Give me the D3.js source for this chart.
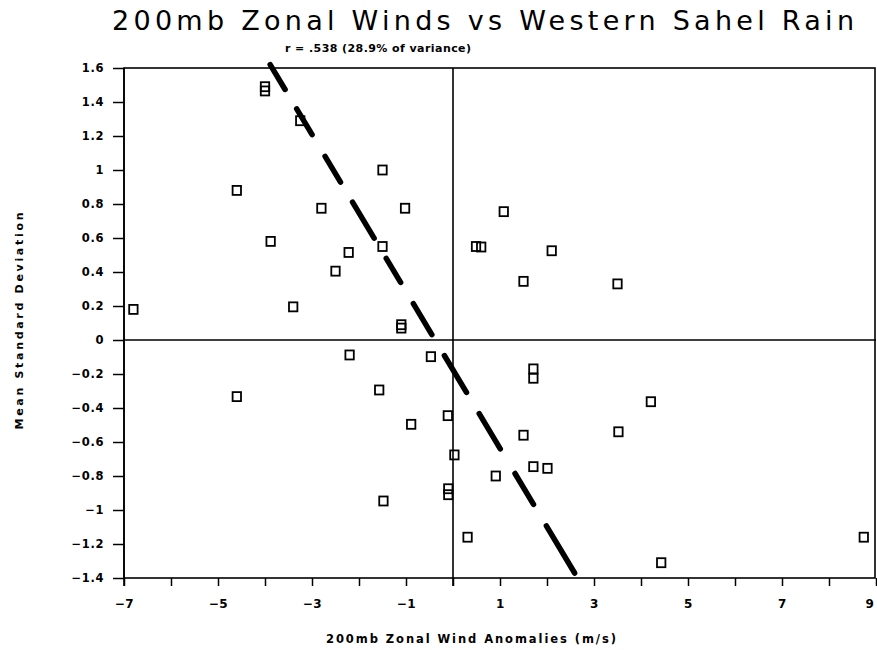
<!DOCTYPE html>
<html><head><meta charset="utf-8">
<script src="https://cdn.jsdelivr.net/npm/d3@7"></script>
<style>
body{margin:0;background:#fff;}
svg{display:block;}
</style></head>
<body><svg id="c" width="877" height="650"></svg>
<script>
// ---- data ----
const windAnomaly = [-4.0,-4.0,-3.25,-1.5,-4.6,-2.8,-1.02,-3.88,-1.5,-2.22,-2.5,-6.8,-3.4,-1.1,-1.1,
  1.08,0.49,0.6,2.1,1.5,3.5,-2.2,-0.47,-1.57,-4.6,-0.11,-0.89,0.03,0.91,-0.1,-0.1,-1.48,0.31,
  1.71,1.71,4.21,1.5,3.52,1.71,2.01,8.74,4.43];
const rainSD = [1.49,1.465,1.29,1.0,0.88,0.775,0.775,0.58,0.55,0.515,0.405,0.18,0.195,0.09,0.07,
  0.755,0.55,0.547,0.525,0.345,0.33,-0.088,-0.098,-0.294,-0.333,-0.445,-0.496,-0.676,-0.8,-0.875,-0.91,-0.947,-1.16,
  -0.17,-0.225,-0.363,-0.56,-0.54,-0.745,-0.755,-1.16,-1.31];
const regSlope = -0.4617, regIntercept = -0.176;
const regYEnds = [1.62, -1.39];
const xTicks = d3.range(-7, 10, 1);
const xLabels = [-7,-5,-3,-1,1,3,5,7,9];
const yTicks = [-1.4,-1.2,-1,-0.8,-0.6,-0.4,-0.2,0,0.2,0.4,0.6,0.8,1,1.2,1.4,1.6];
const titleText = "200mb Zonal Winds vs Western Sahel Rain";
const subtitleText = "r = .538  (28.9% of variance)";
const xTitle = "200mb Zonal Wind Anomalies (m/s)";
const yTitle = "Mean Standard Deviation";

// ---- drawing ----
const svg = d3.select("#c");
const L = 124, R = 876, T = 68, B = 578;
const x = d3.scaleLinear().domain([-7, 9]).range([L, R]);
const y = d3.scaleLinear().domain([-1.4, 1.6]).range([B, T]);
const fmt = d3.format("");
const lab = "'DejaVu Sans', Verdana, sans-serif";

// frame
svg.append("rect").attr("x", L).attr("y", T).attr("width", x(9) - 1 - L).attr("height", B - T)
  .attr("fill", "none").attr("stroke", "#000").attr("stroke-width", 1.6);

// y axis ticks
const ya = svg.append("g").attr("transform", `translate(${L},0)`)
  .call(d3.axisLeft(y).tickValues(yTicks).tickSize(11).tickPadding(9).tickFormat(d => fmt(+d.toFixed(1))));
ya.select(".domain").remove();
ya.selectAll("line").attr("stroke", "#000").attr("stroke-width", 1.5);
ya.selectAll("text").attr("font-family", lab).attr("font-weight", "bold").attr("font-size", 11.5)
  .attr("letter-spacing", 0.6).attr("fill", "#000");

// x axis ticks
const xa = svg.append("g").attr("transform", `translate(0,${B})`)
  .call(d3.axisBottom(x).tickValues(xTicks).tickSize(8).tickPadding(13)
    .tickFormat(d => xLabels.includes(d) ? fmt(d) : ""));
xa.select(".domain").remove();
xa.selectAll("line").attr("stroke", "#000").attr("stroke-width", 1.5);
xa.selectAll("text").attr("font-family", lab).attr("font-weight", "bold").attr("font-size", 12)
  .attr("letter-spacing", 0.6).attr("fill", "#000");
xa.selectAll(".tick").filter(d => d === 9).select("text").attr("text-anchor", "end").attr("dx", -2);

// zero lines
svg.append("line").attr("x1", L).attr("x2", x(9)).attr("y1", y(0)).attr("y2", y(0))
  .attr("stroke", "#000").attr("stroke-width", 1.6);
svg.append("line").attr("x1", x(0)).attr("x2", x(0)).attr("y1", T).attr("y2", B + 8)
  .attr("stroke", "#000").attr("stroke-width", 1.6);
svg.append("line").attr("x1", L).attr("x2", L).attr("y1", T).attr("y2", B + 8)
  .attr("stroke", "#000").attr("stroke-width", 1.6);

// points
const pts = windAnomaly.map((v, i) => [v, rainSD[i]]);
svg.append("g").selectAll("rect").data(pts).join("rect")
  .attr("x", d => x(d[0]) - 4.2).attr("y", d => y(d[1]) - 4.5)
  .attr("width", 8.4).attr("height", 9)
  .attr("fill", "none").attr("stroke", "#000").attr("stroke-width", 1.8);

// regression line
const regPts = regYEnds.map(v => [(v - regIntercept) / regSlope, v]);
svg.append("path")
  .attr("d", d3.line().x(d => x(d[0])).y(d => y(d[1]))(regPts))
  .attr("fill", "none").attr("stroke", "#000").attr("stroke-width", 5.5)
  .attr("stroke-linecap", "round")
  .attr("stroke-dasharray", "29,22.6,30,25.3,30,23.4,42,23.6,28,24.8,36,24.4,43,24.8,41,28.7,36,25,55");

// titles
svg.append("text").attr("x", 483).attr("y", 30).attr("text-anchor", "middle")
  .attr("font-family", "'DejaVu Sans', sans-serif").attr("font-weight", "normal").attr("font-size", 27)
  .attr("textLength", 742).attr("lengthAdjust", "spacing").text(titleText);
svg.append("text").attr("x", 378).attr("y", 52).attr("text-anchor", "middle")
  .attr("font-family", lab).attr("font-weight", "bold").attr("font-size", 11)
  .attr("textLength", 186).attr("lengthAdjust", "spacing").text(subtitleText);
svg.append("text").attr("x", 471).attr("y", 643).attr("text-anchor", "middle")
  .attr("font-family", lab).attr("font-weight", "bold").attr("font-size", 11.5)
  .attr("textLength", 290).attr("lengthAdjust", "spacing").text(xTitle);
svg.append("text").attr("transform", "translate(23,321) rotate(-90)").attr("text-anchor", "middle")
  .attr("font-family", lab).attr("font-weight", "bold").attr("font-size", 11)
  .attr("textLength", 217).attr("lengthAdjust", "spacing").text(yTitle);
</script></body></html>
